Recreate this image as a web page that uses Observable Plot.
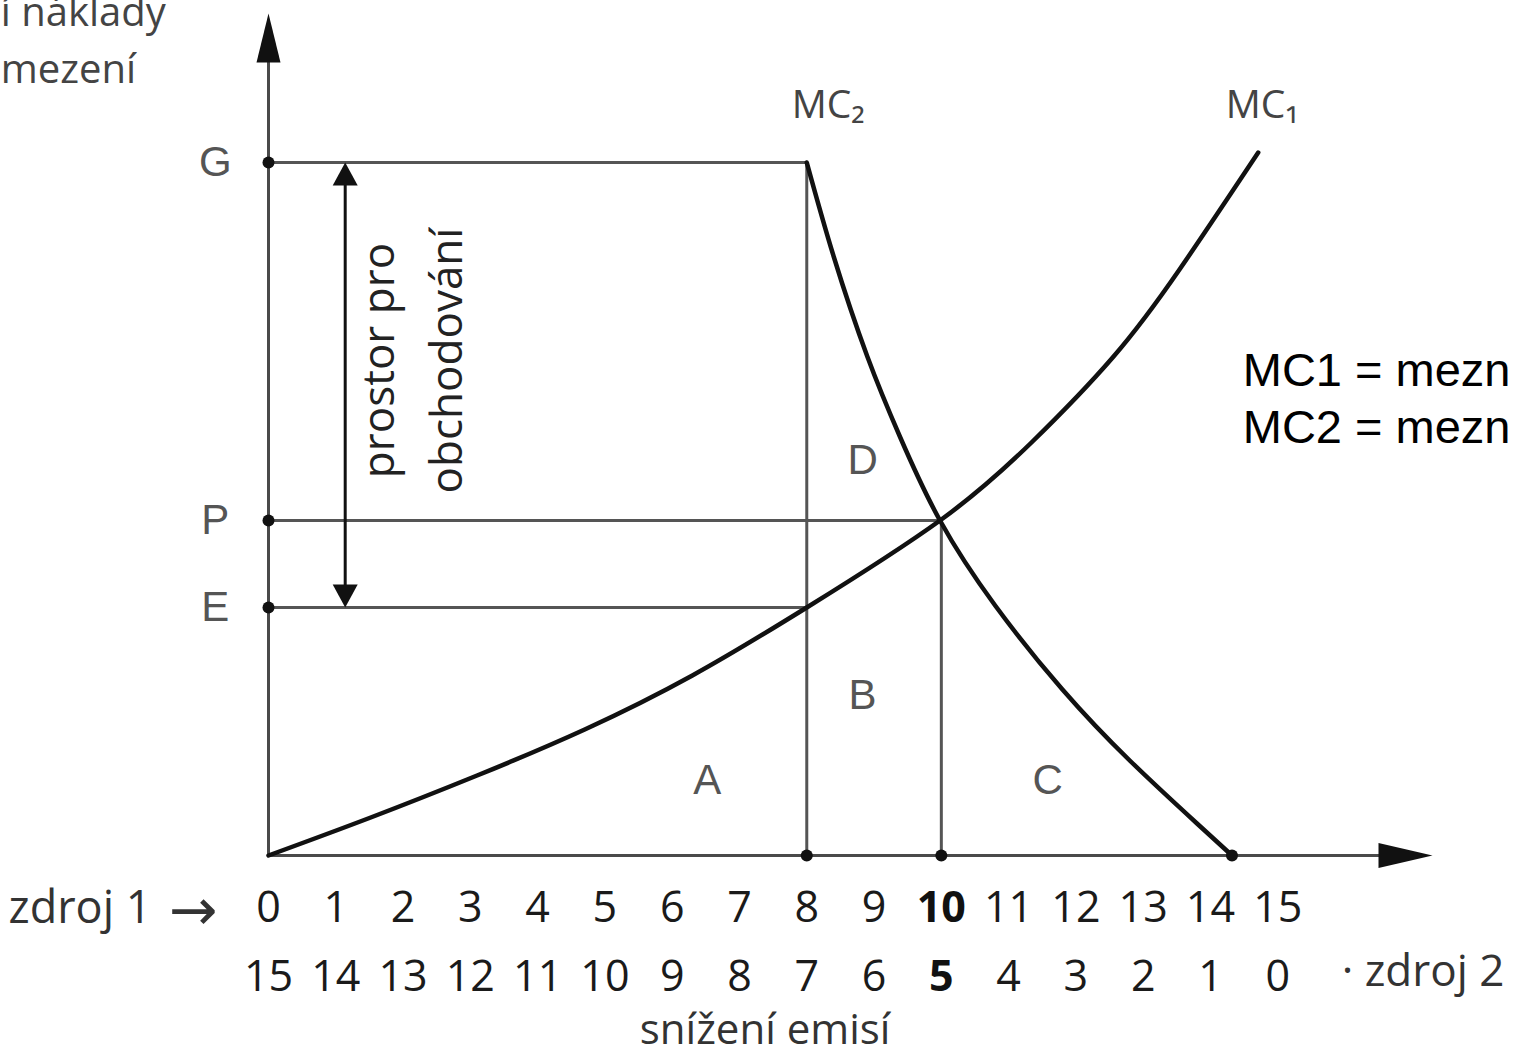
<!DOCTYPE html>
<html>
<head>
<meta charset="utf-8">
<script src="https://cdn.jsdelivr.net/npm/d3@7"></script>
<script src="https://cdn.jsdelivr.net/npm/@observablehq/plot@0.6"></script>
<style>
  html, body { margin: 0; padding: 0; background: #fff; }
  #chart svg { display: block; }
</style>
</head>
<body>
<div id="chart"></div>
<script>
// ---- data ----
// x: emission reduction units of source 1 ; y: marginal cost (arbitrary units)
const mc1X = [0, 1.5, 3.1, 4.7, 6.3, 8.0, 9.98, 11.34, 12.56, 13.54, 14.71];
const mc1Y = [0, 3.75, 8.0, 12.6, 18.0, 24.8, 33.5, 41.3, 49.9, 58.6, 70.3];
const mc2X = [8.0, 8.4, 8.9, 9.39, 9.98, 10.8, 11.8, 12.8, 13.8, 14.32];
const mc2Y = [69.3, 59.9, 49.9, 41.8, 33.5, 25.0, 16.6, 9.5, 3.2, 0];

const levelNames = ["G", "P", "E"];
const levelValues = [69.3, 33.5, 24.8];
const levelEnds = [8, 10, 8];

const tickPositions = [0, 1, 2, 3, 4, 5, 6, 7, 8, 9, 10, 11, 12, 13, 14, 15];
const source1Labels = ["0","1","2","3","4","5","6","7","8","9","10","11","12","13","14","15"];
const source2Labels = ["15","14","13","12","11","10","9","8","7","6","5","4","3","2","1","0"];
const highlightTick = 10;

const areaNames = ["A", "B", "C", "D"];
const areaX = [6.52, 8.83, 11.58, 8.83];
const areaY = [7.5, 16, 7.5, 39.5];

const curveNames = ["MC\u2082", "MC\u2081"];
const curveLabelX = [8.32, 14.77];

const legendLines = ["MC1 = mezn", "MC2 = mezn"];
const tradeLines = ["prostor pro", "obchodování"];
const yTitleLines = ["í náklady", "mezení"];

const marketDots = [
  {x: 0, y: 69.3}, {x: 0, y: 33.5}, {x: 0, y: 24.8},
  {x: 8, y: 0}, {x: 10, y: 0}, {x: 14.32, y: 0}
];

// ---- helpers ----
const mc1 = mc1X.map((x, i) => ({x, y: mc1Y[i]}));
const mc2 = mc2X.map((x, i) => ({x, y: mc2Y[i]}));
const levels = levelNames.map((n, i) => ({name: n, y: levelValues[i], x2: levelEnds[i]}));
const ticks = tickPositions.map((p, i) => ({x: p, top: source1Labels[i], bottom: source2Labels[i]}));
const areas = areaNames.map((n, i) => ({name: n, x: areaX[i], y: areaY[i]}));
const curveLbls = curveNames.map((n, i) => ({name: n, x: curveLabelX[i]}));

const headAxisY = {draw(c) { c.moveTo(0, 0); c.lineTo(-12, 49); c.lineTo(12, 49); c.closePath(); }};
const headAxisX = {draw(c) { c.moveTo(0, 0); c.lineTo(-12.5, 54); c.lineTo(12.5, 54); c.closePath(); }};
const headSmall = {draw(c) { c.moveTo(0, 0); c.lineTo(-12.5, 23); c.lineTo(12.5, 23); c.closePath(); }};

const OS = "'Open Sans', 'Noto Sans', sans-serif";
const AR = "'Liberation Sans', Arial, sans-serif";
const DJ = "'DejaVu Sans', sans-serif";

const chart = Plot.plot({
  width: 1517,
  height: 1055,
  marginLeft: 268,
  marginRight: 85,
  marginTop: 20,
  marginBottom: 200,
  x: {domain: [0, 17.3], axis: null},
  y: {domain: [0, 83.5], axis: null},
  marks: [
    // axes
    Plot.ruleX([0], {y1: 0, y2: 79.3, stroke: "#4a4a4a", strokeWidth: 3}),
    Plot.ruleY([0], {x1: 0, x2: 16.6, stroke: "#4a4a4a", strokeWidth: 3}),
    Plot.dot([{x: 0, y: 84.2}], {x: "x", y: "y", symbol: headAxisY, fill: "#111", stroke: "none"}),
    Plot.dot([{x: 17.3, y: 0}], {x: "x", y: "y", symbol: headAxisX, rotate: 90, fill: "#111", stroke: "none"}),
    // guide lines
    Plot.ruleY(levels, {y: "y", x1: 0, x2: "x2", stroke: "#555", strokeWidth: 3}),
    Plot.ruleX([8], {y1: 0, y2: 69.3, stroke: "#555", strokeWidth: 3}),
    Plot.ruleX([10], {y1: 0, y2: 33.5, stroke: "#555", strokeWidth: 3}),
    // trading range double arrow
    Plot.ruleX([1.14], {y1: 26, y2: 68, stroke: "#111", strokeWidth: 3}),
    Plot.dot([{x: 1.14, y: 69.3}], {x: "x", y: "y", symbol: headSmall, fill: "#111", stroke: "none"}),
    Plot.dot([{x: 1.14, y: 24.8}], {x: "x", y: "y", symbol: headSmall, rotate: 180, fill: "#111", stroke: "none"}),
    // curves
    Plot.line(mc1, {x: "x", y: "y", curve: "natural", stroke: "#111", strokeWidth: 4.5}),
    Plot.line(mc2, {x: "x", y: "y", curve: "natural", stroke: "#111", strokeWidth: 4.5}),
    // dots
    Plot.dot(marketDots, {x: "x", y: "y", r: 6, fill: "#111", stroke: "none"}),
    // level letters
    Plot.text(levels, {x: -0.79, y: "y", text: "name", fontSize: 42, fontFamily: AR, fill: "#555"}),
    // area letters
    Plot.text(areas, {x: "x", y: "y", text: "name", fontSize: 42, fontFamily: AR, fill: "#555"}),
    // curve names
    Plot.text(curveLbls, {x: "x", y: 75, text: "name", fontSize: 39, fontFamily: OS, fill: "#444"}),
    // trading label
    Plot.text(tradeLines, {x: (d, i) => 1.66 + i * 1.0, y: 49.5, text: d => d, rotate: -90, fontSize: 44, fontFamily: OS, fill: "#222"}),
    // tick rows
    Plot.text(ticks.filter(d => d.x !== highlightTick), {x: "x", y: -5.3, text: "top", fontSize: 43, fontFamily: OS, fill: "#1a1a1a"}),
    Plot.text(ticks.filter(d => d.x === highlightTick), {x: "x", y: -5.3, text: "top", fontSize: 43, fontFamily: OS, fontWeight: "bold", fill: "#111"}),
    Plot.text(ticks.filter(d => d.x !== highlightTick), {x: "x", y: -12.2, text: "bottom", fontSize: 43, fontFamily: OS, fill: "#1a1a1a"}),
    Plot.text(ticks.filter(d => d.x === highlightTick), {x: "x", y: -12.2, text: "bottom", fontSize: 43, fontFamily: OS, fontWeight: "bold", fill: "#111"}),
    // axis captions
    Plot.text(["zdroj 1"], {x: -1.74, y: -5.3, text: d => d, textAnchor: "end", fontSize: 45, fontFamily: OS, fill: "#333"}),
    Plot.text(["\u2192"], {x: -0.76, y: -5.6, text: d => d, textAnchor: "end", fontSize: 58, fontFamily: DJ, fill: "#333"}),
    Plot.text(["\u00b7 zdroj 2"], {x: 15.95, y: -11.6, text: d => d, textAnchor: "start", fontSize: 44, fontFamily: OS, fill: "#333"}),
    Plot.text(["snížení emisí"], {x: 7.38, y: -17.5, text: d => d, fontSize: 42, fontFamily: OS, fill: "#333"}),
    // y title (cropped in the original)
    Plot.text(yTitleLines, {x: -3.98, y: (d, i) => i === 0 ? 83.0 : 77.3, text: d => d, textAnchor: "start", lineAnchor: "bottom", fontSize: 40, fontFamily: OS, fill: "#444"}),
    // legend text at right
    Plot.text(legendLines, {x: 14.48, y: (d, i) => i === 0 ? 48.5 : 42.8, text: d => d, textAnchor: "start", fontSize: 47, fontFamily: AR, fill: "#000"})
  ]
});
document.getElementById("chart").appendChild(chart);
</script>
</body>
</html>
